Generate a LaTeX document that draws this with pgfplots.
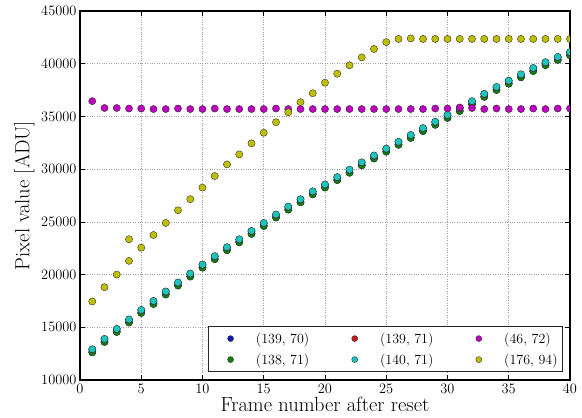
\documentclass[border=0pt]{standalone}
\usepackage{fontspec}
\usepackage{pgfplots}
\pgfplotsset{compat=1.18}
\usepackage{pgfplotstable}
\definecolor{mblue}{rgb}{0.05,0.1,0.7}
\definecolor{mgreen}{rgb}{0.05,0.5,0.05}
\definecolor{mred}{rgb}{0.78,0.1,0.1}
\definecolor{mcyan}{rgb}{0.1,0.78,0.75}
\definecolor{mmag}{rgb}{0.75,0,0.75}
\definecolor{myel}{rgb}{0.75,0.75,0}

\pgfplotstableread{
x cyan green blue red
1 12920 12620 12650 12890
2 13900 13600 13630 13870
3 14850 14550 14580 14820
4 15750 15450 15480 15720
5 16650 16350 16380 16620
6 17500 17200 17230 17470
7 18400 18100 18130 18370
8 19250 18950 18980 19220
9 20100 19800 19830 20070
10 20950 20650 20680 20920
11 21750 21450 21480 21720
12 22600 22300 22330 22570
13 23350 23050 23080 23320
14 24150 23850 23880 24120
15 24900 24600 24630 24870
16 25700 25400 25430 25670
17 26450 26150 26180 26420
18 27150 26850 26880 27120
19 27900 27600 27630 27870
20 28550 28250 28280 28520
21 29250 28950 28980 29220
22 29950 29650 29680 29920
23 30650 30350 30380 30620
24 31300 31000 31030 31270
25 31950 31650 31680 31920
26 32600 32300 32330 32570
27 33250 32950 32980 33220
28 33900 33600 33630 33870
29 34500 34200 34230 34470
30 35150 34850 34880 35120
31 35800 35500 35530 35770
32 36450 36150 36180 36420
33 37150 36850 36880 37120
34 37800 37500 37530 37770
35 38400 38100 38130 38370
36 39000 38700 38730 38970
37 39600 39300 39330 39570
38 40150 39850 39880 40120
39 40650 40350 40380 40620
40 41100 40800 40830 41070
}\quad

\pgfplotstableread{
x y
1 36450
2 35800
3 35800
4 35750
5 35750
6 35700
7 35700
8 35750
9 35700
10 35700
11 35750
12 35700
13 35700
14 35700
15 35700
16 35750
17 35700
18 35700
19 35700
20 35700
21 35700
22 35700
23 35700
24 35700
25 35700
26 35700
27 35700
28 35700
29 35750
30 35750
31 35850
32 35800
33 35700
34 35750
35 35700
36 35700
37 35750
38 35700
39 35750
40 35750
}\magtab

\pgfplotstableread{
x y
1 17450
2 18800
3 20000
4 21300
4 23350
5 22550
6 23750
7 24900
8 26100
9 27150
10 28250
11 29350
12 30450
13 31400
14 32450
15 33450
16 34450
17 35400
18 36350
19 37200
20 38200
21 39050
22 39850
23 40600
24 41400
25 42050
26 42350
27 42400
28 42350
29 42350
30 42350
31 42350
32 42350
33 42350
34 42350
35 42350
36 42350
37 42350
38 42350
39 42350
40 42350
}\yeltab

\begin{document}
\begin{tikzpicture}
\begin{axis}[
  scale only axis,
  width=490pt, height=369pt,
  xmin=0, xmax=40, ymin=10000, ymax=45000,
  xtick={0,5,...,40},
  ytick={10000,15000,...,45000},
  scaled y ticks=false,
  yticklabel style={/pgf/number format/1000 sep={}},
  grid=major,
  major grid style={dotted, gray!75, line width=0.6pt},
  axis line style={line width=1.6pt},
  tick align=inside,
  major tick length=5pt,
  tick style={black, line width=0.7pt},
  ticklabel style={font=\fontsize{14}{14}\selectfont},
  xticklabel style={yshift=-1pt},
  xlabel={Frame number after reset},
  ylabel={Pixel value [ADU]},
  xlabel style={font=\fontsize{20.5}{22}\selectfont, at={(axis description cs:0.5,-0.0867)}, anchor=base},
  ylabel style={font=\fontsize{20.5}{22}\selectfont, at={(axis description cs:-0.114,0.5)}, anchor=center},
  clip marker paths=true,
  legend columns=2,
  transpose legend,
  legend cell align=left,
  legend style={at={(0.9857,0.0217)}, anchor=south east,
    font=\fontsize{14}{16}\selectfont, draw=black!85, line width=0.8pt,
    inner xsep=3pt, inner ysep=4pt, row sep=5pt,
    /tikz/every even column/.append style={column sep=24pt}},
  legend image code/.code={\path (0pt,0pt) (42pt,0pt); \draw[line width=0.4pt,#1,mark size=3pt] plot coordinates {(19pt,0pt)};},
]
\addplot[only marks, mark=*, mark size=3.6pt, mark options={fill=mblue, draw=black!80, line width=0.4pt}] table[x=x,y=blue] \quad;
\addlegendentry{(139, 70)}
\addplot[only marks, mark=*, mark size=3.6pt, mark options={fill=mgreen, draw=black!80, line width=0.4pt}] table[x=x,y=green] \quad;
\addlegendentry{(138, 71)}
\addplot[only marks, mark=*, mark size=3.6pt, mark options={fill=mred, draw=black!80, line width=0.4pt}] table[x=x,y=red] \quad;
\addlegendentry{(139, 71)}
\addplot[only marks, mark=*, mark size=3.6pt, mark options={fill=mcyan, draw=black!80, line width=0.4pt}] table[x=x,y=cyan] \quad;
\addlegendentry{(140, 71)}
\addplot[only marks, mark=*, mark size=3.6pt, mark options={fill=mmag, draw=black!80, line width=0.4pt}] table[x=x,y=y] \magtab;
\addlegendentry{(46, 72)}
\addplot[only marks, mark=*, mark size=3.6pt, mark options={fill=myel, draw=black!80, line width=0.4pt}] table[x=x,y=y] \yeltab;
\addlegendentry{(176, 94)}
\end{axis}
\path (-80pt,-38pt) rectangle (502pt,380pt);
\end{tikzpicture}
\end{document}
